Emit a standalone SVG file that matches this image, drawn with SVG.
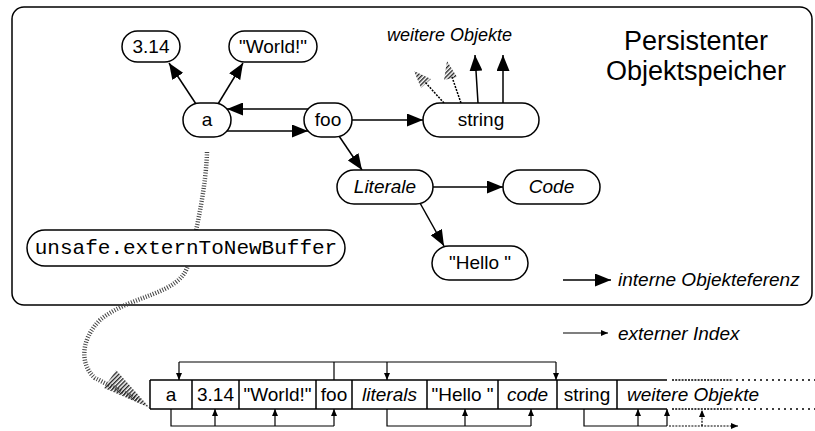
<svg xmlns="http://www.w3.org/2000/svg" width="815" height="431" viewBox="0 0 815 431">
<style>
.nd{fill:#fff;stroke:#000;stroke-width:1.5}
.t{font-family:"Liberation Sans",Arial,sans-serif;font-size:19px;fill:#000;text-anchor:middle}
.i{font-style:italic}
.mono{font-family:"Liberation Mono","Courier New",monospace;font-size:21px;fill:#000;text-anchor:middle}
.ln{fill:none;stroke:#000;stroke-width:1.5}
.ix{fill:none;stroke:#000;stroke-width:1.2}
.big{marker-end:url(#big)}
.sm{marker-end:url(#sm)}
.dot{fill:none;stroke:#000;stroke-width:1.5;stroke-dasharray:2 1.2}
.sparse{fill:none;stroke:#000;stroke-width:1.5;stroke-dasharray:2 4}
</style>
<defs>
<marker id="big" markerUnits="userSpaceOnUse" markerWidth="16" markerHeight="13" refX="16" refY="6.5" orient="auto"><path d="M0,0 L16,6.5 L0,13 z" fill="#000"/></marker>
<marker id="sm" markerUnits="userSpaceOnUse" markerWidth="7" markerHeight="6" refX="7" refY="3" orient="auto"><path d="M0,0 L7,3 L0,6 z" fill="#000"/></marker>
<pattern id="hatch" patternUnits="userSpaceOnUse" width="3" height="3" patternTransform="rotate(45)"><rect width="1.4" height="3" fill="#222"/></pattern>
</defs>

<rect x="12" y="7" width="800" height="298" rx="12" fill="#fff" stroke="#000" stroke-width="1.5"/>

<g id="title">
<text class="t" x="696" y="50" style="font-size:27px">Persistenter</text>
<text class="t" x="696" y="80" style="font-size:27px">Objektspeicher</text>
<text class="t i" x="387" y="41" style="font-size:18px;text-anchor:start">weitere Objekte</text>
</g>

<g id="connectors">
<path d="M207,152 C206,185 198,225 188,265 C180,295 130,295 100,320 C80,340 80,365 95,378 L140,401" fill="none" stroke="#444" stroke-width="4.5" stroke-dasharray="1 1.6"/>
<polygon points="150,408 104,388 116,370" fill="url(#hatch)"/>
<path class="ln big" d="M196,104 L169,63"/>
<path class="ln big" d="M218,104 L243,63"/>
<path class="ln big" d="M308,109 L227,109"/>
<path class="ln big" d="M227,131 L308,131"/>
<path class="ln big" d="M352,120 L423,120"/>
<path class="ln big" d="M339,136 L362,170"/>
<path class="ln big" d="M433,187 L503,187"/>
<path class="ln big" d="M420,203 L444,246"/>
<path class="ln big" d="M478,103 L475,55"/>
<path class="ln big" d="M503,103 L503,55"/>
<path class="dot" d="M444,103 L425,82"/>
<polygon points="414,71 431,79 421,88" fill="url(#hatch)"/>
<path class="dot" d="M461,103 L452,77"/>
<polygon points="447,61 457,77 444,80" fill="url(#hatch)"/>
<path class="ln big" d="M563,280 L611,280"/>
<path class="ix sm" d="M563,333 L608,333"/>
<path class="ix" d="M334,380 L334,362 M179,362 L556,362"/>
<path class="ix sm" d="M179,362 L179,380"/>
<path class="ix sm" d="M387,362 L387,380"/>
<path class="ix sm" d="M556,362 L556,380"/>
<path class="ix" d="M171,409 L171,426 L334,426"/>
<path class="ix sm" d="M215,426 L215,409"/>
<path class="ix sm" d="M275,426 L275,409"/>
<path class="ix sm" d="M334,426 L334,409"/>
<path class="ix" d="M387,409 L387,426 L531,426"/>
<path class="ix sm" d="M465,426 L465,409"/>
<path class="ix sm" d="M531,426 L531,409"/>
<path class="ix" d="M584,409 L584,426 L667,426"/>
<path class="ix sm" d="M638,426 L638,409"/>
<path class="ix sm" d="M667,426 L667,409"/>
<path class="dot sm" d="M669,426 L738,426" style="stroke-width:1.2"/>
<path class="dot sm" d="M702,426 L702,410" style="stroke-width:1.2"/>
</g>

<g id="n314"><rect class="nd" x="122" y="31" width="58" height="31" rx="15.5"/><text class="t" x="151" y="53">3.14</text></g>
<g id="nWorld"><rect class="nd" x="229" y="31" width="88" height="31" rx="15.5"/><text class="t" x="273" y="53">"World!"</text></g>
<g id="na"><rect class="nd" x="183" y="103" width="48" height="34" rx="17"/><text class="t" x="207" y="126">a</text></g>
<g id="nfoo"><rect class="nd" x="304" y="103" width="48" height="34" rx="17"/><text class="t" x="328" y="126">foo</text></g>
<g id="nstring"><rect class="nd" x="423" y="103" width="116" height="34" rx="17"/><text class="t" x="481" y="126">string</text></g>
<g id="nLiterale"><rect class="nd" x="337" y="170" width="96" height="34" rx="17"/><text class="t i" x="385" y="193">Literale</text></g>
<g id="nCode"><rect class="nd" x="503" y="170" width="97" height="34" rx="17"/><text class="t i" x="551.5" y="193">Code</text></g>
<g id="nHello"><rect class="nd" x="432" y="246" width="96" height="34" rx="17"/><text class="t" x="480" y="269">"Hello "</text></g>
<g id="nunsafe"><rect class="nd" x="27" y="230" width="318" height="36" rx="18"/><text class="mono" x="186" y="254">unsafe.externToNewBuffer</text></g>

<g id="legend">
<text class="t i" x="618" y="286" style="text-anchor:start">interne Objekteferenz</text>
<text class="t i" x="618" y="340" style="text-anchor:start">externer Index</text>
</g>

<g id="buffer">
<path class="ln" d="M150,380 L667,380 M150,409 L667,409 M150,380 L150,409 M192,380 L192,409 M239,380 L239,409 M316,380 L316,409 M352,380 L352,409 M427,380 L427,409 M498,380 L498,409 M557,380 L557,409 M617,380 L617,409"/>
<path class="dot" d="M672,380 L733,380 M672,409 L733,409"/>
<path class="sparse" d="M736,380 L815,380 M736,409 L815,409"/>
<text class="t" x="171" y="401">a</text>
<text class="t" x="215.5" y="401">3.14</text>
<text class="t" x="277.5" y="401">"World!"</text>
<text class="t" x="334" y="401">foo</text>
<text class="t i" x="389.5" y="401">literals</text>
<text class="t" x="462.5" y="401">"Hello "</text>
<text class="t i" x="527.5" y="401">code</text>
<text class="t" x="587" y="401">string</text>
<text class="t i" x="627" y="401" style="text-anchor:start">weitere Objekte</text>
</g>
</svg>
